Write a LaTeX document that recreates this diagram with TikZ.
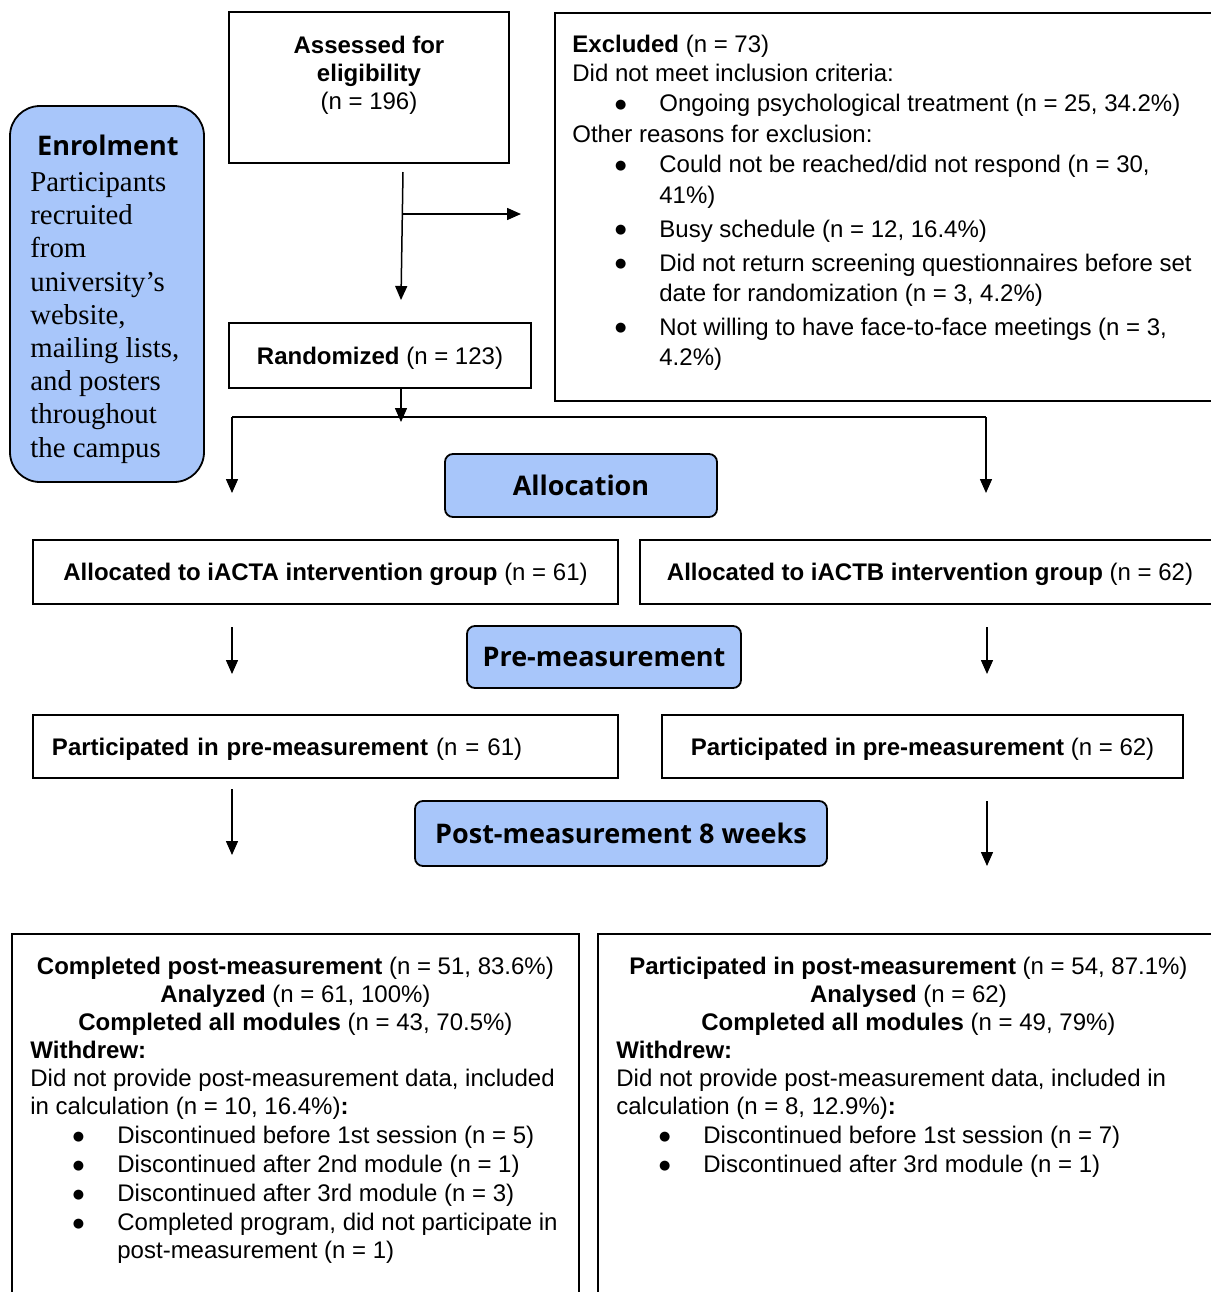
\documentclass[tikz,border=0pt]{standalone}
\usepackage{fontspec}
\setmainfont{Liberation Sans}
\newfontfamily\enrolfont{Liberation Serif}
\newfontfamily\phasefont{Open Sans}
\newfontfamily\dotfont{DejaVu Sans}
\usetikzlibrary{arrows.meta}
\definecolor{phaseblue}{RGB}{168,198,250}
\newcommand{\bul}[1]{\makebox[43.5pt][l]{\hspace*{21.3pt}\raisebox{1.8pt}{\dotfont\fontsize{6.5}{6.5}\selectfont ●}}#1}
\newcommand{\cont}{\hspace*{43.5pt}}

\begin{document}
\begin{tikzpicture}[x=0.5pt, y=-0.5pt,
        font=\fontsize{12}{14}\selectfont,
        box/.style={draw, line width=0.9pt, inner sep=0pt},
        line/.style={box, text depth=0pt},
        phase/.style={draw, line width=0.9pt, fill=phaseblue, rounded corners=4pt,
            font=\phasefont\bfseries\fontsize{13.5}{16}\selectfont},
        txt/.style={inner sep=0pt, align=left},
        arr/.style={line width=0.75pt, -{Triangle[length=7pt, width=6pt]}}]
        \useasboundingbox (0,0) rectangle (1211,1292);
        \clip (0,0) rectangle (1211,1292);

        % Enrolment
        \node[phase, rounded corners=15pt, minimum width=97pt, minimum height=188pt] (enrol) at (107,294) {};
        \node[txt, anchor=north west, font=\enrolfont\fontsize{14.4}{16.6}\selectfont] (enroltxt) at (30,135)
            {\makebox[77.5pt]{\phasefont\bfseries\fontsize{13.5}{16}\selectfont Enrolment}\\[1.2pt]
            Participants\\ recruited\\ from\\ university’s\\ website,\\ mailing lists,\\
            and posters\\ throughout\\ the campus};

        % Assessed and excluded
        \node[box, minimum width=140pt, minimum height=75.5pt] (assess) at (369,87.5) {};
        \node[txt, anchor=north, align=center] (assesstxt) at (369,36)
            {\textbf{Assessed for}\\ \textbf{eligibility}\\ (n = 196)};
        \node[box, anchor=north west, minimum width=353pt, minimum height=194pt] (excl) at (554,12) {};
        \node[txt, anchor=north west, font=\fontsize{12}{15.25}\selectfont] (excltxt) at (572,35)
            {\textbf{Excluded} (n = 73)\\[-1pt]
            Did not meet inclusion criteria:\\
            \bul{Ongoing psychological treatment (n = 25, 34.2\%)}\\
            Other reasons for exclusion:\\
            \bul{Could not be reached/did not respond (n = 30,}\\
            \cont 41\%)\\[1.7pt]
            \bul{Busy schedule (n = 12, 16.4\%)}\\[1.7pt]
            \bul{Did not return screening questionnaires before set}\\
            \cont date for randomization (n = 3, 4.2\%)\\[1.7pt]
            \bul{Not willing to have face-to-face meetings (n = 3,}\\
            \cont 4.2\%)};

        % Randomization and allocation
        \node[line, minimum width=151pt, minimum height=32.5pt] (rand) at (380,355.5)
            {\textbf{Randomized} (n = 123)};
        \node[phase, minimum width=136pt, minimum height=31.5pt] (alloc) at (581,485.5) {Allocation};
        \node[line, minimum width=292.5pt, minimum height=32pt] (allocA) at (325.5,572)
            {\textbf{Allocated to iACTA intervention group} (n = 61)};
        \node[line, minimum width=290pt, minimum height=32pt] (allocB) at (930,572)
            {\textbf{Allocated to iACTB intervention group} (n = 62)};

        % Pre-measurement
        \node[phase, minimum width=137pt, minimum height=31pt] (pre) at (604,657) {Pre-measurement};
        \node[line, minimum width=292.5pt, minimum height=31.5pt, text width=273.5pt, inner xsep=9.5pt, align=left] (preA) at (325.5,746.5)
            {\textbf{Participated in pre-measurement} (n = 61)};
        \node[line, minimum width=260.5pt, minimum height=31.5pt] (preB) at (922.5,746.5)
            {\textbf{Participated in pre-measurement} (n = 62)};

        % Post-measurement
        \node[phase, minimum width=206pt, minimum height=32.5pt] (post) at (621,833.5) {Post-measurement 8 weeks};
        \node[box, anchor=north west, minimum width=283.5pt, minimum height=210pt] (postA) at (11,933) {};
        \node[txt, anchor=north west] (postAtxt) at (30,957)
            {\makebox[265pt]{\textbf{Completed post-measurement} (n = 51, 83.6\%)}\\
            \makebox[265pt]{\textbf{Analyzed} (n = 61, 100\%)}\\
            \makebox[265pt]{\textbf{Completed all modules} (n = 43, 70.5\%)}\\
            \textbf{Withdrew:}\\
            Did not provide post-measurement data, included\\
            in calculation (n = 10, 16.4\%)\textbf{:}\\[0.5pt]
            \bul{Discontinued before 1st session (n = 5)}\\[0.5pt]
            \bul{Discontinued after 2nd module (n = 1)}\\[0.5pt]
            \bul{Discontinued after 3rd module (n = 3)}\\[0.5pt]
            \bul{Completed program, did not participate in}\\
            \cont post-measurement (n = 1)};
        \node[box, anchor=north west, minimum width=331.5pt, minimum height=210pt] (postB) at (597,933) {};
        \node[txt, anchor=north west] (postBtxt) at (616,957)
            {\makebox[292pt]{\textbf{Participated in post-measurement} (n = 54, 87.1\%)}\\
            \makebox[292pt]{\textbf{Analysed} (n = 62)}\\
            \makebox[292pt]{\textbf{Completed all modules} (n = 49, 79\%)}\\
            \textbf{Withdrew:}\\
            Did not provide post-measurement data, included in\\
            calculation (n = 8, 12.9\%)\textbf{:}\\[0.5pt]
            \bul{Discontinued before 1st session (n = 7)}\\[0.5pt]
            \bul{Discontinued after 3rd module (n = 1)}};

        % Arrows
        \coordinate (s1) at (403,172);
        \coordinate (s2) at (401,300);
        \coordinate (b1) at (403,214);
        \coordinate (b2) at (521,214);
        \draw[arr] (s1) -- (s2);
        \draw[arr] (b1) -- (b2);

        \coordinate (r1) at (401,422);
        \coordinate (hl) at (232,417);
        \coordinate (hr) at (986,417);
        \coordinate (la1) at (232,493);
        \coordinate (ra1) at (986,493);
        \draw[arr] (rand.south -| r1) -- (r1);
        \draw[line width=0.75pt] (hl) -- (hr);
        \draw[arr] (hl) -- (la1);
        \draw[arr] (hr) -- (ra1);

        \coordinate (la2) at (232,627);
        \coordinate (lb2) at (232,674);
        \coordinate (ra2) at (987,627);
        \coordinate (rb2) at (987,674);
        \draw[arr] (la2) -- (lb2);
        \draw[arr] (ra2) -- (rb2);

        \coordinate (la3) at (232,789);
        \coordinate (lb3) at (232,855);
        \coordinate (ra3) at (987,801);
        \coordinate (rb3) at (987,866);
        \draw[arr] (la3) -- (lb3);
        \draw[arr] (ra3) -- (rb3);
    \end{tikzpicture}
\end{document}
